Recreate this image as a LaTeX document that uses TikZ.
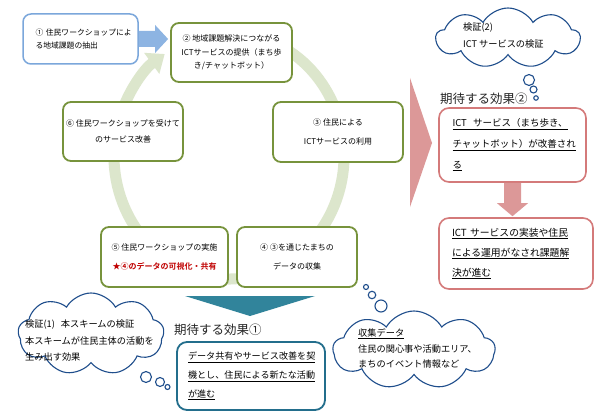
\documentclass[tikz,border=0pt]{standalone}
\usepackage{fontspec}
\setmainfont{Noto Sans CJK JP}[BoldFont={Noto Sans CJK JP Bold}]
\usetikzlibrary{shapes.symbols,arrows.meta,calc}
\definecolor{cyclegreen}{HTML}{77933C}
\definecolor{ringgreen}{HTML}{DCE6CC}
\definecolor{boxblue}{HTML}{7BA7DB}
\definecolor{arrowblue}{HTML}{8DB4E2}
\definecolor{pinkline}{HTML}{D47A7A}
\definecolor{pinkfill}{HTML}{DC9898}
\definecolor{tealfill}{HTML}{31849B}
\definecolor{tealline}{HTML}{236E8C}
\definecolor{cloudline}{HTML}{1F4E8C}
\definecolor{redtext}{HTML}{C00000}
\begin{document}
\begin{tikzpicture}[x=1pt,y=-1pt,
  cyclebox/.style={draw=cyclegreen, line width=1.8pt, rounded corners=8pt, fill=white, inner sep=0pt, align=center},
  bluebox/.style={draw=boxblue, line width=1.5pt, rounded corners=8pt, fill=white, inner sep=0pt, align=left},
  pinkbox/.style={draw=pinkline, line width=1.6pt, rounded corners=10pt, fill=white, inner sep=0pt, align=left},
  tealbox/.style={draw=tealline, line width=1.8pt, rounded corners=10pt, fill=white, inner sep=0pt, align=left},
  cloudsty/.style={cloud, cloud puffs=9, cloud puff arc=120, draw=cloudline, line width=1.1pt, fill=white, inner sep=0pt},
  bubble/.style={circle, draw=cloudline, line width=1.1pt, fill=white, inner sep=0pt},
  cloudtext/.style={anchor=west, align=left, inner sep=0pt},
  heading/.style={anchor=west, inner sep=0pt, font=\fontsize{12.5}{14}\selectfont, text=black!85},
]
\fill[white] (0,0) rectangle (596,417);
\useasboundingbox (0,0) rectangle (596,417);

% cycle ring
\coordinate (ringc) at (229,156);
\draw[ringgreen, line width=11pt, -{Triangle[width=25pt,length=16pt]}]
  ($(ringc)+({115*cos(-70)},{123*sin(-70)})$) arc[start angle=-70, end angle=236, x radius=115, y radius=123];

% cycle boxes
\node[bluebox, minimum width=115pt, minimum height=50pt, text width=90pt, font=\fontsize{7.8}{13.5}\selectfont] (b1) at (80.5,39)
  {\mbox{① 住民ワークショップによ}\\る地域課題の抽出};
\node[cyclebox, minimum width=121pt, minimum height=59pt, font=\fontsize{8}{13.5}\selectfont] (b2) at (231.5,52.5)
  {② 地域課題解決につながる\\ICTサービスの提供（まち歩\\き/チャットボット）};
\node[cyclebox, minimum width=130pt, minimum height=60pt, font=\fontsize{8}{19}\selectfont] (b3) at (338,132)
  {③ 住民による\\ICTサービスの利用};
\node[cyclebox, minimum width=120pt, minimum height=60pt, font=\fontsize{8}{19}\selectfont] (b4) at (297,257)
  {④ ③を通じたまちの\\データの収集};
\node[cyclebox, minimum width=127pt, minimum height=60pt, font=\fontsize{8}{19}\selectfont] (b5) at (164.5,257)
  {⑤ 住民ワークショップの実施\\\textcolor{redtext}{\bfseries ★④のデータの可視化・共有}};
\node[cyclebox, minimum width=120pt, minimum height=59pt, font=\fontsize{8}{15.5}\selectfont] (b6) at (123,131.5)
  {⑥ 住民ワークショップを受けて\\のサービス改善};

% blue arrow from b1 to b2
\coordinate (bs) at (b1.east);
\coordinate (bt) at ($(b2.west|-b1.east)+(-2,0)$);
\fill[arrowblue] ($(bs)+(0,-8)$) -- ($(bt)+(-13,-8)$) -- ($(bt)+(-13,-14)$) -- (bt)
  -- ($(bt)+(-13,14)$) -- ($(bt)+(-13,8)$) -- ($(bs)+(0,8)$) -- cycle;

% big pink triangle
\fill[pinkfill] (410,78) -- (432,143) -- (410,207) -- cycle;

% effect 2
\node[heading] (h2) at (440,99) {期待する効果②};
\node[pinkbox, minimum width=147pt, minimum height=74pt, text width=120pt, font=\fontsize{9.5}{21}\selectfont] (p1) at (512.5,145)
  {\underline{ICT\ \ サービス（まち歩き、}\\\underline{チャットボット）が改善され}\\\underline{る}};
\node[pinkbox, minimum width=154pt, minimum height=71pt, text width=128pt, font=\fontsize{9.8}{20}\selectfont] (p2) at (516,253.5)
  {\underline{ICT サービスの実装や住民}\\\underline{による運用がなされ課題解}\\\underline{決が進む}};
\coordinate (ds) at (p1.south);
\coordinate (dt) at ($(p1.south|-p2.north)+(0,-1)$);
\fill[pinkfill] ($(ds)+(-8.5,0)$) -- ($(dt)+(-8.5,-13)$) -- ($(dt)+(-15.5,-13)$) -- (dt)
  -- ($(dt)+(15.5,-13)$) -- ($(dt)+(8.5,-13)$) -- ($(ds)+(8.5,0)$) -- cycle;

% teal triangle and effect 1
\fill[tealfill] (185,296) -- (315,296) -- (250,316) -- cycle;
\node[heading] (h1) at (174,330) {期待する効果①};
\node[tealbox, minimum width=148pt, minimum height=68pt, text width=126pt, font=\fontsize{9.1}{19}\selectfont] (t1) at (251,376)
  {\underline{データ共有やサービス改善を契}\\\underline{機とし、住民による新たな活動}\\\underline{が進む}};

% clouds
\node[cloudsty, minimum width=146pt, minimum height=82pt] (c1) at (91,334) {};
\node[cloudtext, font=\fontsize{9.2}{16.5}\selectfont] (c1t) at (25,341)
  {検証(1)\hspace{6pt}本スキームの検証\\本スキームが住民主体の活動を\\生み出す効果};
\node[bubble, minimum size=11pt] (c1a) at (146,377) {};
\node[bubble, minimum size=9pt] (c1b) at (160,382) {};
\node[bubble, minimum size=5pt] (c1c) at (167.5,387) {};

\node[cloudsty, minimum width=144pt, minimum height=60pt] (c2) at (508,38) {};
\node[cloudtext, font=\fontsize{9.2}{16.5}\selectfont] (c2t) at (463,35.5)
  {検証(2)\\ICT サービスの検証};
\node[bubble, minimum size=11pt] (c2a) at (529,80) {};
\node[bubble, minimum size=7pt] (c2b) at (533.5,89.5) {};
\node[bubble, minimum size=4.5pt] (c2c) at (536,98) {};

\node[cloudsty, minimum width=162pt, minimum height=78pt] (c3) at (414,350) {};
\node[cloudtext, font=\fontsize{9.2}{15.5}\selectfont] (c3t) at (358,348.5)
  {\underline{収集データ}\\住民の関心事や活動エリア、\\まちのイベント情報など};
\node[bubble, minimum size=12pt] (c3a) at (381,306) {};
\node[bubble, minimum size=7.5pt] (c3b) at (372,295) {};
\node[bubble, minimum size=5pt] (c3c) at (366,287) {};
\end{tikzpicture}
\end{document}
